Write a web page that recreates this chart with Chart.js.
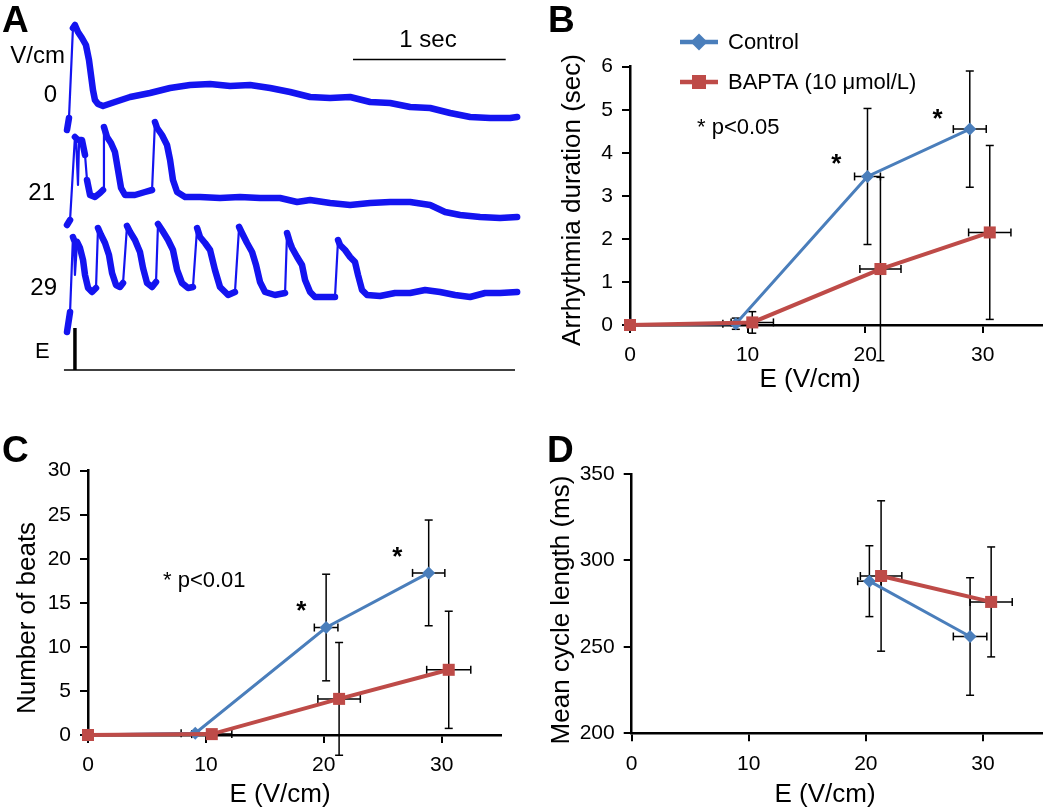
<!DOCTYPE html>
<html><head><meta charset="utf-8">
<script src="https://cdn.jsdelivr.net/npm/chart.js@4.4.1/dist/chart.umd.min.js"></script>
<style>
html,body{margin:0;padding:0;background:#fff;}
#wrap{position:relative;width:1050px;height:807px;overflow:hidden;background:#fff;}
canvas{position:absolute;}
</style></head><body>
<div id="wrap">
<canvas id="cA" width="530" height="400" style="left:0;top:0;width:530px;height:400px"></canvas>
<canvas id="cB" width="520" height="400" style="left:530px;top:0;width:520px;height:400px"></canvas>
<canvas id="cC" width="530" height="407" style="left:0;top:400px;width:530px;height:407px"></canvas>
<canvas id="cD" width="520" height="407" style="left:530px;top:400px;width:520px;height:407px"></canvas>
</div>
<script>
// ---------------- DATA ----------------
// Panel A: optical traces (time in ms, amplitude in a.u.)
const trace0Ms  = [0,13,39,52,72,98,124,144,157,170,183,203,236,314,413,544,675,806,937,1068,1199,1330,1461,1592,1723,1854,1985,2116,2247,2378,2509,2640,2771,2902,2948];
const trace0Amp = [0,12,102,105,98,92,85,70,55,40,30,26,24,28,33,37,42,45,46,44,45,42,38,33,32,33,28,27,23,22,17,13,12,12,13];
const trace21Ms  = [0,20,52,59,72,79,98,118,131,151,183,216,236,242,262,288,314,334,354,380,445,511,557,576,590,622,655,675,694,721,773,871,1002,1133,1264,1395,1507,1592,1723,1854,1985,2116,2247,2378,2476,2574,2705,2836,2948];
const trace21Amp = [0,5,88,87,40,85,85,70,45,30,28,32,35,98,88,82,73,55,37,30,30,33,35,103,97,90,80,65,45,33,28,28,27,28,27,27,23,25,22,20,22,23,23,20,13,10,8,7,8];
const trace29Ms  = [0,20,39,46,52,66,85,105,118,138,164,190,203,223,249,275,295,321,347,367,393,413,445,478,498,524,557,583,596,622,662,694,721,753,793,825,852,871,904,937,969,1002,1055,1100,1127,1146,1179,1212,1238,1264,1297,1362,1428,1441,1461,1474,1507,1539,1559,1592,1624,1690,1755,1775,1788,1821,1854,1886,1906,1932,1965,2050,2148,2247,2345,2443,2541,2640,2738,2836,2948];
const trace29Amp = [0,20,95,92,57,90,84,72,57,44,40,44,104,97,89,77,59,47,45,49,106,100,92,80,64,49,45,50,108,102,92,82,62,49,44,45,104,95,89,82,62,45,37,40,105,99,89,80,67,50,40,37,39,99,89,84,75,67,52,40,35,35,35,92,87,82,75,70,57,42,37,36,39,39,42,40,37,35,39,39,40];
const stimLineMs = [-20, 2934];
const stimMs = 52;
const stimAmp = 42;
const scaleBarMs = [1873, 2873];
const traceLabels = ['0', '21', '29'];

// Panel B: arrhythmia duration (sec)
const bCtrlE = [0, 9.0, 20.2, 28.9];
const bCtrlY = [0, 0.03, 3.45, 4.55];
const bCtrlYErr = [0, 0.13, 1.58, 1.35];
const bCtrlXErr = [0, 1.1, 1.1, 1.4];
const bBaptE = [0, 10.4, 21.3, 30.6];
const bBaptY = [0, 0.06, 1.3, 2.15];
const bBaptYErr = [0, 0.25, 2.13, 2.02];
const bBaptXErr = [0, 1.8, 1.75, 1.8];
const bYTicks = [0, 1, 2, 3, 4, 5, 6];
const bStarE = [17.55, 26.16];
const bStarY = [3.88, 4.93];

// Panel C: number of beats
const cCtrlE = [0, 9.1, 20.2, 28.9];
const cCtrlY = [0, 0.2, 12.2, 18.4];
const cCtrlYErr = [0, 0, 6.05, 6.0];
const cCtrlXErr = [0, 1.2, 1.0, 1.37];
const cBaptE = [0, 10.5, 21.3, 30.6];
const cBaptY = [0, 0.1, 4.1, 7.4];
const cBaptYErr = [0, 0.3, 6.4, 6.65];
const cBaptXErr = [0, 1.7, 1.8, 1.87];
const cYTicks = [0, 5, 10, 15, 20, 25, 30];
const cStarE = [18.09, 26.23];
const cStarY = [14.84, 20.92];

// Panel D: mean cycle length (ms)
const dCtrlE = [20.3, 28.9];
const dCtrlY = [288, 256];
const dCtrlYErr = [20.5, 34];
const dCtrlXErr = [1.0, 1.43];
const dBaptE = [21.3, 30.7];
const dBaptY = [291, 276];
const dBaptYErr = [43.5, 31.8];
const dBaptXErr = [1.77, 1.8];
const dYTicks = [200, 250, 300, 350];

const xTicks = [0, 10, 20, 30];
const seriesNames = ['Control', 'BAPTA (10 \u03bcmol/L)'];

// ---------------- STYLE ----------------
const FONT = "'Liberation Sans', Arial, Helvetica, sans-serif";
const BLUE = '#4A7EBB', RED = '#BE4B48', TRACE = '#1414F0';

function textPlugin(items) {
  return {
    id: 'txt',
    afterDraw(chart) {
      const c = chart.ctx;
      c.save();
      c.fillStyle = '#000';
      items.forEach(t => {
        c.font = (t.bold ? 'bold ' : '') + t.size + 'px ' + FONT;
        c.textAlign = t.align || 'left';
        c.textBaseline = t.base || 'alphabetic';
        let x = t.x, y = t.y;
        if (t.dx !== undefined) {
          x = chart.scales.x.getPixelForValue(t.dx);
          y = chart.scales.y.getPixelForValue(t.dy) + 0.55 * t.size;
        }
        if (t.rot) {
          c.save(); c.translate(x, y); c.rotate(-Math.PI / 2); c.fillText(t.text, 0, 0); c.restore();
        } else c.fillText(t.text, x, y);
      });
      c.restore();
    }
  };
}

const errorBars = {
  id: 'errorBars',
  beforeDatasetsDraw(chart) {
    const c = chart.ctx, xs = chart.scales.x, ys = chart.scales.y;
    c.save();
    c.strokeStyle = '#000';
    c.lineWidth = 1.5;
    const seg = (x1, y1, x2, y2) => { c.beginPath(); c.moveTo(x1, y1); c.lineTo(x2, y2); c.stroke(); };
    chart.data.datasets.forEach(ds => {
      if (!ds.yErr) return;
      ds.data.forEach((p, i) => {
        const cx = xs.getPixelForValue(p.x), cy = ys.getPixelForValue(p.y);
        const ye = ds.yErr[i], xe = ds.xErr[i], cap = 4;
        if (ye > 0) {
          const t = ys.getPixelForValue(p.y + ye), b = ys.getPixelForValue(p.y - ye);
          seg(cx, t, cx, b); seg(cx - cap, t, cx + cap, t); seg(cx - cap, b, cx + cap, b);
        }
        if (xe > 0) {
          const l = xs.getPixelForValue(p.x - xe), r = xs.getPixelForValue(p.x + xe);
          seg(l, cy, r, cy); seg(l, cy - cap, l, cy + cap); seg(r, cy - cap, r, cy + cap);
        }
      });
    });
    c.restore();
  }
};

const legendPlugin = {
  id: 'legendB',
  afterDraw(chart) {
    const c = chart.ctx;
    c.save();
    const rows = [{y: 42, col: BLUE, shape: 'd', text: seriesNames[0]}, {y: 82, col: RED, shape: 's', text: seriesNames[1]}];
    rows.forEach(r => {
      c.strokeStyle = r.col; c.fillStyle = r.col; c.lineWidth = 4.5;
      c.beginPath(); c.moveTo(150, r.y); c.lineTo(188, r.y); c.stroke();
      c.beginPath();
      if (r.shape === 'd') { const s = 8.5; c.moveTo(169, r.y - s); c.lineTo(169 + s, r.y); c.lineTo(169, r.y + s); c.lineTo(169 - s, r.y); c.closePath(); }
      else { const s = 7; c.rect(169 - s, r.y - s, 2 * s, 2 * s); }
      c.fill();
      c.fillStyle = '#000';
      c.font = '22px ' + FONT; c.textAlign = 'left'; c.textBaseline = 'middle';
      c.fillText(r.text, 198, r.y + 1);
    });
    c.restore();
  }
};

function axis(opts) {
  const common = {
    type: 'linear', min: opts.min, max: opts.max,
    afterBuildTicks: s => { s.ticks = opts.ticks.map(v => ({value: v})); },
    grid: {drawOnChartArea: false, drawTicks: true, tickLength: 8, color: '#000', lineWidth: 2},
    border: {display: true, color: '#000', width: 2.5},
    ticks: {font: {family: FONT, size: 21}, color: '#000', padding: opts.pad, maxRotation: 0, autoSkip: false}
  };
  if (opts.isX) common.afterFit = s => { s.height = opts.size; };
  else common.afterFit = s => { s.width = opts.size; };
  return common;
}

function panel(id, cfg) {
  const mk = (e, y, xe, ye) => ({data: e.map((v, i) => ({x: v, y: y[i]})), xErr: xe, yErr: ye});
  const ctrl = mk(cfg.ctrl[0], cfg.ctrl[1], cfg.ctrl[2], cfg.ctrl[3]);
  const bapt = mk(cfg.bapt[0], cfg.bapt[1], cfg.bapt[2], cfg.bapt[3]);
  return new Chart(document.getElementById(id), {
    type: 'line',
    data: {datasets: [
      Object.assign(ctrl, {label: seriesNames[0], borderColor: BLUE, backgroundColor: BLUE, borderWidth: 3,
        pointStyle: 'rectRot', pointRadius: 6.5, pointBorderWidth: 0, pointBackgroundColor: BLUE, order: 1, clip: false, tension: 0}),
      Object.assign(bapt, {label: seriesNames[1], borderColor: RED, backgroundColor: RED, borderWidth: 4,
        pointStyle: 'rect', pointRadius: 8.5, pointBorderWidth: 0, pointBackgroundColor: RED, order: 0, clip: false, tension: 0})
    ]},
    options: {
      responsive: false, animation: false, events: [],
      layout: {padding: {left: 0, top: cfg.padTop, right: cfg.padRight, bottom: 0}},
      plugins: {legend: {display: false}, tooltip: {enabled: false}},
      scales: {
        x: axis({isX: true, min: 0, max: 35, ticks: xTicks, size: cfg.xH, pad: 10}),
        y: axis({isX: false, min: cfg.yTicks[0], max: cfg.yTicks[cfg.yTicks.length - 1], ticks: cfg.yTicks, size: cfg.yW, pad: 9})
      }
    },
    plugins: [errorBars, textPlugin(cfg.texts)].concat(cfg.extra || [])
  });
}

// ---------------- PANEL A ----------------
const msPerPx = 1000 / 152.7;
const traceLevels = [270, 175, 68];  // vertical placement of each trace
const stimLevel = 30, scaleBarLevel = 340.5;
const steep = c => Math.abs(c.p1.y - c.p0.y) > 10 * Math.abs(c.p1.x - c.p0.x);
function traceThin(ms, amp, level) {
  return {
    data: ms.map((t, i) => ({x: t, y: amp[i] + level})),
    borderColor: TRACE, borderWidth: 2.2, pointRadius: 0, clip: false, tension: 0,
    borderJoinStyle: 'round'
  };
}
function traceBand(ms, amp, level) {
  return {
    data: ms.map((t, i) => ({x: t, y: amp[i] + level})),
    borderColor: TRACE, borderWidth: 6.5, pointRadius: 0, clip: false, tension: 0,
    borderJoinStyle: 'round', borderCapStyle: 'round',
    segment: {borderColor: c => steep(c) ? 'rgba(0,0,0,0)' : TRACE}
  };
}
new Chart(document.getElementById('cA'), {
  type: 'line',
  data: {datasets: [
    traceThin(trace0Ms, trace0Amp, traceLevels[0]),
    traceBand(trace0Ms, trace0Amp, traceLevels[0]),
    traceThin(trace21Ms, trace21Amp, traceLevels[1]),
    traceBand(trace21Ms, trace21Amp, traceLevels[1]),
    traceThin(trace29Ms, trace29Amp, traceLevels[2]),
    traceBand(trace29Ms, trace29Amp, traceLevels[2]),
    {data: stimLineMs.map(t => ({x: t, y: stimLevel})), borderColor: '#000', borderWidth: 1.5, pointRadius: 0, clip: false},
    {data: [{x: stimMs, y: stimLevel}, {x: stimMs, y: stimLevel + stimAmp}], borderColor: '#000', borderWidth: 3.5, pointRadius: 0, clip: false},
    {data: scaleBarMs.map(t => ({x: t, y: scaleBarLevel})), borderColor: '#000', borderWidth: 1.5, pointRadius: 0, clip: false}
  ]},
  options: {
    responsive: false, animation: false, events: [],
    layout: {padding: 0},
    plugins: {legend: {display: false}, tooltip: {enabled: false}},
    scales: {
      x: {type: 'linear', display: false, min: -67 * msPerPx, max: 463 * msPerPx},
      y: {type: 'linear', display: false, min: 0, max: 400}
    }
  },
  plugins: [textPlugin([
    {text: 'A', bold: true, size: 37, x: 2, y: 32},
    {text: 'V/cm', size: 24, x: 65, y: 63, align: 'right'},
    {text: traceLabels[0], size: 24, x: 57, y: 102, align: 'right'},
    {text: traceLabels[1], size: 24, x: 55, y: 200, align: 'right'},
    {text: traceLabels[2], size: 24, x: 57, y: 295, align: 'right'},
    {text: 'E', size: 22, x: 35, y: 358},
    {text: '1 sec', size: 24, x: 428, y: 47, align: 'center'}
  ])]
});

// ---------------- PANEL B ----------------
panel('cB', {
  ctrl: [bCtrlE, bCtrlY, bCtrlXErr, bCtrlYErr],
  bapt: [bBaptE, bBaptY, bBaptXErr, bBaptYErr],
  yTicks: bYTicks, padTop: 66.7, padRight: 5.25, yW: 100, xH: 75,
  texts: [
    {text: 'B', bold: true, size: 37, x: 18, y: 32},
    {text: '* p<0.05', size: 22, x: 167, y: 134},
    {text: 'Arrhythmia duration (sec)', size: 26, x: 43, y: 200, rot: true, align: 'center', base: 'middle'},
    {text: 'E (V/cm)', size: 26, x: 280, y: 387, align: 'center'},
    {text: '*', bold: true, size: 26, dx: bStarE[0], dy: bStarY[0], align: 'center'},
    {text: '*', bold: true, size: 26, dx: bStarE[1], dy: bStarY[1], align: 'center'}
  ],
  extra: [legendPlugin]
});

// ---------------- PANEL C ----------------
panel('cC', {
  ctrl: [cCtrlE, cCtrlY, cCtrlXErr, cCtrlYErr],
  bapt: [cBaptE, cBaptY, cBaptXErr, cBaptYErr],
  yTicks: cYTicks, padTop: 70.7, padRight: 29.4, yW: 88, xH: 72,
  texts: [
    {text: 'C', bold: true, size: 37, x: 2, y: 62},
    {text: '* p<0.01', size: 22, x: 163, y: 187},
    {text: 'Number of beats', size: 26, x: 28, y: 218, rot: true, align: 'center', base: 'middle'},
    {text: 'E (V/cm)', size: 26, x: 280, y: 402, align: 'center'},
    {text: '*', bold: true, size: 26, dx: cStarE[0], dy: cStarY[0], align: 'center'},
    {text: '*', bold: true, size: 26, dx: cStarE[1], dy: cStarY[1], align: 'center'}
  ]
});

// ---------------- PANEL D ----------------
panel('cD', {
  ctrl: [dCtrlE, dCtrlY, dCtrlXErr, dCtrlYErr],
  bapt: [dBaptE, dBaptY, dBaptXErr, dBaptYErr],
  yTicks: dYTicks, padTop: 74, padRight: 1, yW: 101.7, xH: 73.7,
  texts: [
    {text: 'D', bold: true, size: 37, x: 17, y: 62},
    {text: 'Mean cycle length (ms)', size: 26, x: 32, y: 210, rot: true, align: 'center', base: 'middle'},
    {text: 'E (V/cm)', size: 26, x: 295, y: 402, align: 'center'}
  ]
});
</script>
</body></html>
